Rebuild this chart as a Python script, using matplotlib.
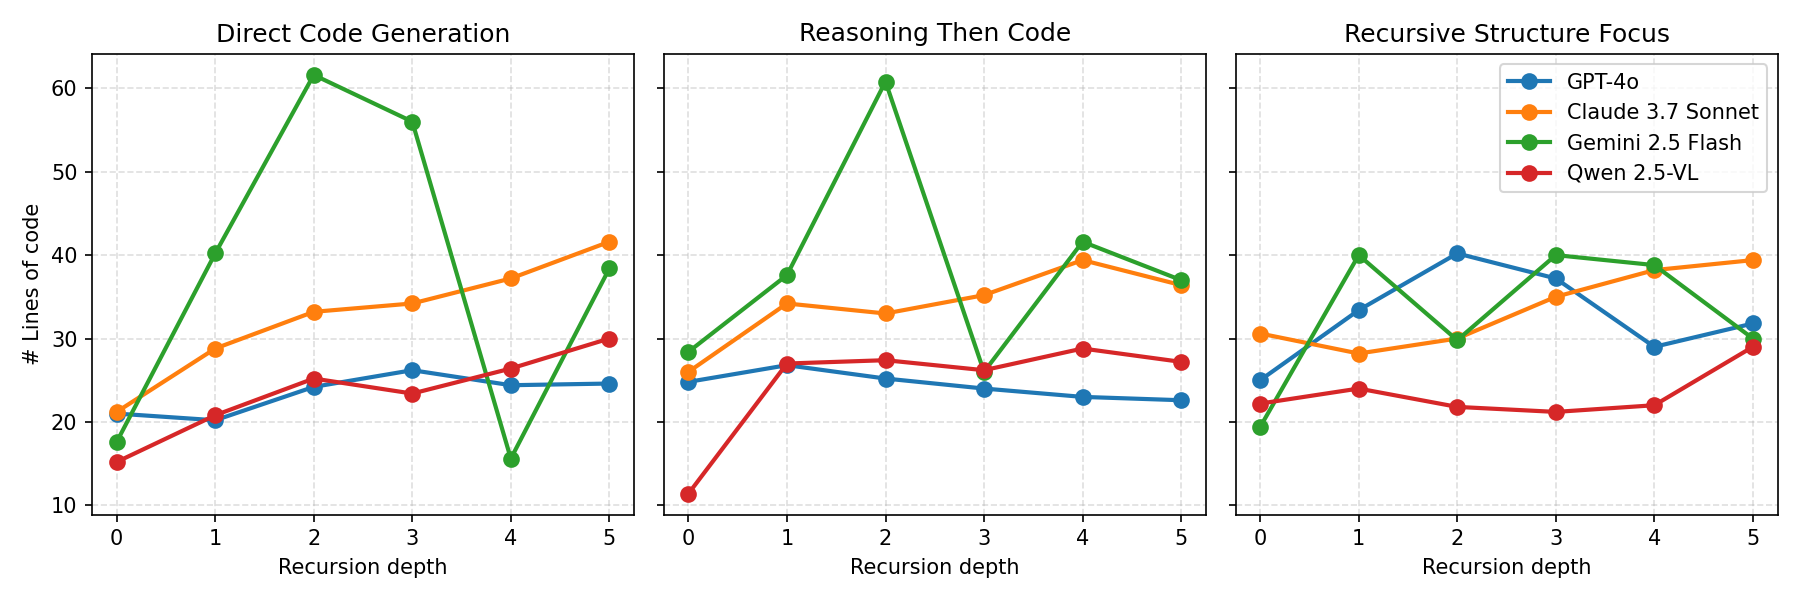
import matplotlib
matplotlib.use("Agg")
import matplotlib.pyplot as plt

depths = [0, 1, 2, 3, 4, 5]
panel_titles = ["Direct Code Generation", "Reasoning Then Code", "Recursive Structure Focus"]
models = ["GPT-4o", "Claude 3.7 Sonnet", "Gemini 2.5 Flash", "Qwen 2.5-VL"]

direct_gpt = [21.0, 20.2, 24.2, 26.2, 24.4, 24.6]
direct_claude = [21.2, 28.8, 33.2, 34.2, 37.2, 41.6]
direct_gemini = [17.6, 40.2, 61.6, 56.0, 15.6, 38.4]
direct_qwen = [15.2, 20.8, 25.2, 23.4, 26.4, 30.0]

reason_gpt = [24.8, 26.8, 25.2, 24.0, 23.0, 22.6]
reason_claude = [26.0, 34.2, 33.0, 35.2, 39.4, 36.4]
reason_gemini = [28.4, 37.6, 60.8, 26.0, 41.6, 37.0]
reason_qwen = [11.4, 27.0, 27.4, 26.2, 28.8, 27.2]

recur_gpt = [25.0, 33.4, 40.2, 37.2, 29.0, 31.8]
recur_claude = [30.6, 28.2, 30.0, 35.0, 38.2, 39.4]
recur_gemini = [19.4, 40.0, 29.8, 40.0, 38.8, 30.0]
recur_qwen = [22.2, 24.0, 21.8, 21.2, 22.0, 29.0]

panels = [
    [direct_gpt, direct_claude, direct_gemini, direct_qwen],
    [reason_gpt, reason_claude, reason_gemini, reason_qwen],
    [recur_gpt, recur_claude, recur_gemini, recur_qwen],
]
colors = ["#1f77b4", "#ff7f0e", "#2ca02c", "#d62728"]

fig, axes = plt.subplots(1, 3, figsize=(12, 4), dpi=150, sharey=True)
for ax, title, series in zip(axes, panel_titles, panels):
    for name, vals, c in zip(models, series, colors):
        ax.plot(depths, vals, marker="o", markersize=7, linewidth=2, color=c, label=name)
    ax.set_title(title, fontsize=12)
    ax.set_xlabel("Recursion depth")
    ax.set_xticks(depths)
    ax.grid(True, linestyle="--", alpha=0.4)
axes[0].set_ylabel("# Lines of code")
axes[2].legend(loc="upper right")
fig.tight_layout()
fig.savefig("out.png")
